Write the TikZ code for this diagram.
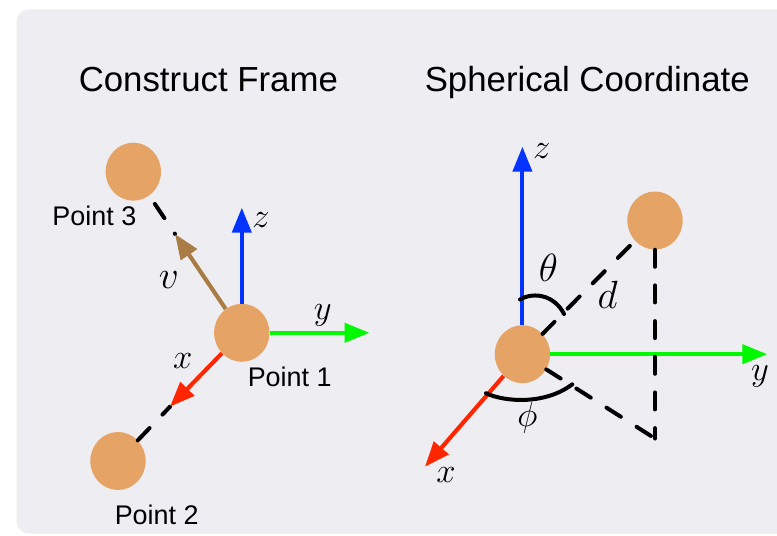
\RequirePackage{fix-cm}
\documentclass[tikz,border=0pt]{standalone}
\usepackage{fontspec}
\setmainfont{Liberation Sans}
\usetikzlibrary{shapes.geometric,arrows.meta}
\definecolor{panel}{HTML}{EDEDF2}
\definecolor{ball}{HTML}{E5A465}
\definecolor{axblue}{HTML}{0433FF}
\definecolor{axgreen}{HTML}{00F900}
\definecolor{axred}{HTML}{FF2600}
\definecolor{axbrown}{HTML}{A97C45}
\tikzset{
  ballnode/.style={ellipse,fill=ball,draw=none,inner sep=0pt,minimum width=41.5pt,minimum height=43.5pt},
  axis/.style={line width=3.1pt,-{Triangle[length=18.75pt,width=14.25pt]}},
  dashline/.style={black,line width=3pt,line cap=round,dash pattern=on 12.75pt off 14pt},
  anglearc/.style={black,line width=3pt,line cap=round},
  title/.style={anchor=base west,inner sep=0pt,font=\fontsize{26.1}{30}\selectfont},
  ptlabel/.style={anchor=base west,inner sep=0pt,font=\fontsize{20.2}{24}\selectfont},
  mathlabel/.style={inner sep=0pt,font=\fontsize{26}{30}\selectfont},
  mathbig/.style={inner sep=0pt,font=\fontsize{29.5}{34}\selectfont}
}
\begin{document}
\begin{tikzpicture}[x=0.75pt,y=-0.75pt]
\useasboundingbox (0,0) rectangle (777,535);
\begin{scope}
\clip (0,0) rectangle (777,535);
\fill[panel,rounded corners=9pt] (16.5,9.5) rectangle (800,533.5);
\end{scope}
\node[title] (t1) at (78.5,91) {Construct Frame};
\node[title] (t2) at (424.5,91) {Spherical Coordinate};
% left panel
\node[ballnode] (p1) at (241.8,332.8) {};
\node[ballnode] (p2) at (118,461) {};
\node[ballnode] (p3) at (133.3,171.7) {};
\coordinate (lz) at (241.8,207.7);
\coordinate (ly) at (369.5,332.8);
\coordinate (lx) at (170,406.7);
\coordinate (lv) at (175,234);
\draw[dashline] (p3) -- (lv) [shorten <=7.5pt];
\draw[dashline] (p2) -- (lx);
\draw[axis,axblue] (p1) -- (lz);
\draw[axis,axgreen] (p1) -- (ly);
\draw[axis,axred] (p1) -- (lx);
\draw[axis,axbrown] (p1) -- (lv);
\node[ptlabel] (n1) at (247.5,386.7) {Point 1};
\node[ptlabel] (n2) at (114.5,524) {Point 2};
\node[ptlabel] (n3) at (52.2,225) {Point 3};
\node[mathlabel] (mz1) at (261,220) {$z$};
\node[mathbig] (mv) at (169,280) {$v$};
\node[mathlabel] (mx1) at (182.7,360.7) {$x$};
\node[mathlabel] (my1) at (322.7,315) {$y$};
% right panel
\node[ballnode] (p0) at (522.4,354.2) {};
\node[ballnode] (pt) at (655,220.5) {};
\coordinate (rz) at (522.4,146.7);
\coordinate (ry) at (767.3,354.2);
\coordinate (rx) at (425,466.7);
\coordinate (corner) at (655,438.5);
\draw[dashline] (p0) -- (pt);
\draw[axis,axblue] (p0) -- (rz);
\draw[axis,axgreen] (p0) -- (ry);
\draw[axis,axred] (p0) -- (rx);
\draw[dashline] (pt) -- (corner);
\draw[dashline] (p0) -- (corner);
\coordinate (ta) at (520,299.5);
\coordinate (tb) at (564,314);
\coordinate (pa) at (486,393.3);
\coordinate (pb) at (572.3,384.3);
\draw[anglearc] (ta) .. controls (535,291) and (555,296) .. (tb);
\draw[anglearc] (pa) .. controls (505,402) and (545,405) .. (pb);
\node[mathlabel] (mz2) at (541.7,151) {$z$};
\node[mathbig] (mth) at (548.3,268.3) {$\theta$};
\node[mathbig] (md) at (607.7,295) {$d$};
\node[mathlabel] (my2) at (760,376.7) {$y$};
\node[mathlabel] (mph) at (527.3,418.3) {$\phi$};
\node[mathlabel] (mx2) at (446,475) {$x$};
\end{tikzpicture}
\end{document}
